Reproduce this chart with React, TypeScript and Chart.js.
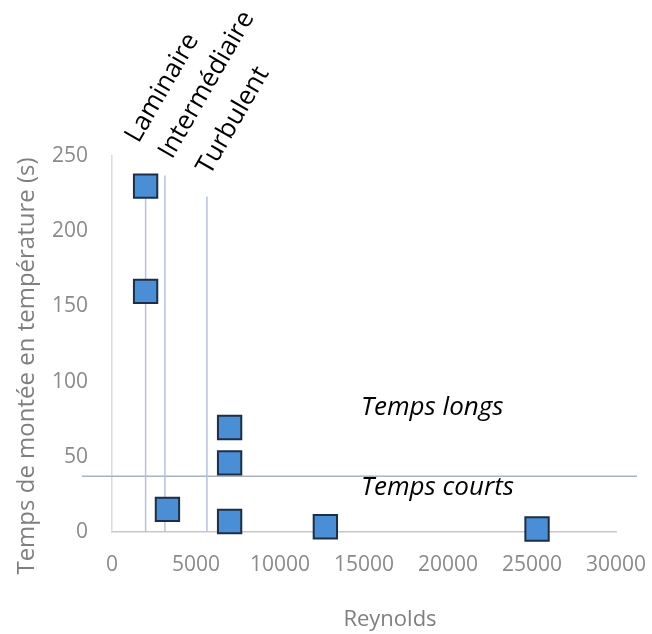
import React, { useEffect, useRef } from "react";
import { Chart, registerables } from "chart.js";

Chart.register(...registerables);

// Data
const reynolds = [2000, 2000, 3300, 7000, 7000, 7000, 12700, 25300];
const tempsMontee = [230, 160, 15, 69.5, 46, 7, 3.5, 2];

const regimeNames = ["Laminaire", "Intermédiaire", "Turbulent"];
const regimeLimits = [2000, 3150, 5650];
const regimeTops = [236, 237, 223];

const seuilTemps = 37;
const seuilXRange = [-1790, 31250];
const zoneLabels = ["Temps longs", "Temps courts"];

const xTitle = "Reynolds";
const yTitle = "Temps de montée en température (s)";

const FONT = "'Open Sans', 'DejaVu Sans', sans-serif";

const textPlugin = {
  id: "customTexts",
  afterDraw(chart: any) {
    const ctx = chart.ctx as CanvasRenderingContext2D;
    const xs = chart.scales.x;
    ctx.save();
    // axis titles
    ctx.fillStyle = "#7f7f7f";
    ctx.font = `22px ${FONT}`;
    ctx.textAlign = "center";
    ctx.textBaseline = "middle";
    ctx.fillText(xTitle, 390, 620);
    ctx.save();
    ctx.translate(27, 366);
    ctx.rotate(-Math.PI / 2);
    ctx.font = `24px ${FONT}`;
    ctx.fillText(yTitle, 0, 0);
    ctx.restore();

    // zone labels
    ctx.fillStyle = "#000";
    ctx.font = `italic 26px ${FONT}`;
    ctx.textAlign = "left";
    ctx.textBaseline = "alphabetic";
    ctx.fillText(zoneLabels[0], 361, 415);
    ctx.fillText(zoneLabels[1], 361, 495);

    // rotated regime labels
    const offsets = [
      [-7, 144],
      [7, 160],
      [3, 176],
    ];
    ctx.font = `26px ${FONT}`;
    regimeNames.forEach((name, i) => {
      const px = xs.getPixelForValue(regimeLimits[i]) + offsets[i][0];
      ctx.save();
      ctx.translate(px, offsets[i][1]);
      ctx.rotate((-60 * Math.PI) / 180);
      ctx.fillText(name, 0, 0);
      ctx.restore();
    });
    ctx.restore();
  },
};

export default function App() {
  const ref = useRef<HTMLCanvasElement>(null);
  useEffect(() => {
    if (!ref.current) return;
    const points = reynolds.map((x, i) => ({ x, y: tempsMontee[i] }));
    const regimeSets = regimeLimits.map((x, i) => ({
      label: regimeNames[i],
      data: [
        { x, y: 0 },
        { x, y: regimeTops[i] },
      ],
      showLine: true,
      borderColor: "#b7c0e2",
      borderWidth: 1.5,
      pointRadius: 0,
      pointHoverRadius: 0,
    }));
    const chart = new Chart(ref.current, {
      type: "scatter",
      data: {
        datasets: [
          {
            label: "Mesures",
            data: points,
            pointStyle: "rect",
            pointRadius: 16.5,
            pointHoverRadius: 16.5,
            backgroundColor: "#4a8fd6",
            borderColor: "#1c2e48",
            borderWidth: 2,
            clip: false as any,
          },
          ...regimeSets,
          {
            label: "Seuil",
            data: [
              { x: seuilXRange[0], y: seuilTemps },
              { x: seuilXRange[1], y: seuilTemps },
            ],
            showLine: true,
            borderColor: "#a9b3bd",
            borderWidth: 1.5,
            pointRadius: 0,
            pointHoverRadius: 0,
            clip: false as any,
          },
        ],
      },
      options: {
        animation: false,
        responsive: false,
        layout: { padding: { left: 0, top: 156, right: 36, bottom: 0 } },
        plugins: {
          legend: { display: false },
          tooltip: { enabled: false },
        },
        scales: {
          x: {
            type: "linear",
            min: 0,
            max: 30000,
            ticks: {
              stepSize: 5000,
              color: "#8a8a8a",
              font: { family: FONT, size: 21 },
              padding: 20,
              maxRotation: 0,
              callback: (v: any) => String(v),
            },
            grid: { display: false, drawTicks: false },
            border: { display: true, color: "#c8c8c8", width: 1.5 },
            afterFit: (s: any) => {
              s.height = 102;
              s.paddingLeft = 0;
              s.paddingRight = 0;
            },
          },
          y: {
            type: "linear",
            min: 0,
            max: 250,
            ticks: {
              stepSize: 50,
              color: "#8a8a8a",
              font: { family: FONT, size: 21 },
              padding: 24,
              callback: (v: any) => String(v),
            },
            grid: { display: false, drawTicks: false },
            border: { display: true, color: "#dadada", width: 1.5 },
            afterFit: (s: any) => {
              s.width = 112;
              s.paddingTop = 0;
              s.paddingBottom = 0;
            },
          },
        },
      },
      plugins: [textPlugin],
    });
    return () => chart.destroy();
  }, []);
  return (
    <div style={{ position: "fixed", left: 0, top: 0, width: 652, height: 634, background: "#fff" }}>
      <canvas ref={ref} width={652} height={634} />
    </div>
  );
}
